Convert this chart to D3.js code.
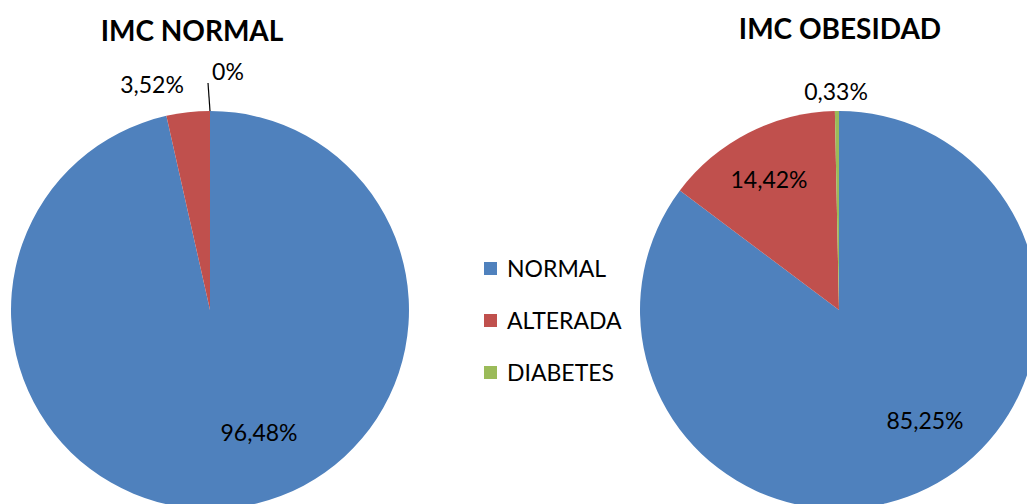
<!DOCTYPE html>
<html>
<head>
<meta charset="utf-8">
<script src="https://cdn.jsdelivr.net/npm/d3@7"></script>
<style>
  html, body { margin: 0; padding: 0; background: #fff; overflow: hidden; }
  svg { display: block; font-family: Lato, "Open Sans", "Liberation Sans", sans-serif; }
</style>
</head>
<body>
<svg id="chart" width="1027" height="504"></svg>
<script>
// Categories shared by both pies
const categories = ["NORMAL", "ALTERADA", "DIABETES"];
const colors = ["#4F81BD", "#C0504D", "#9BBB59"];

// Percentages per group
const normalValues = [96.48, 3.52, 0];
const obesidadValues = [85.25, 14.42, 0.33];

const titles = ["IMC NORMAL", "IMC OBESIDAD"];

const svg = d3.select("#chart");
const color = d3.scaleOrdinal().domain(categories).range(colors);
const fmt = v => d3.format(",.2~f")(v).replace(".", ",") + "%";

const radius = 199;
const pie = d3.pie().sort(null).value(d => d.value);
const arc = d3.arc().innerRadius(0).outerRadius(radius);

function drawPie(values, cx, cy, title, titleX, titleY, labelPos) {
  const data = categories.map((c, i) => ({ cat: c, value: values[i] }));
  const g = svg.append("g").attr("transform", `translate(${cx},${cy})`);
  const arcs = pie(data);
  g.selectAll("path").data(arcs).join("path")
    .attr("d", arc)
    .attr("fill", d => color(d.data.cat));

  svg.append("text")
    .attr("x", titleX).attr("y", titleY)
    .attr("text-anchor", "middle")
    .attr("font-weight", "bold").attr("font-size", 28)
    .attr("fill", "#000")
    .text(title);

  arcs.forEach((a, i) => {
    const p = labelPos[i];
    if (!p) return;
    if (p.leader) {
      const ang = (a.startAngle + a.endAngle) / 2;
      g.append("line")
        .attr("x1", Math.sin(ang) * radius).attr("y1", -Math.cos(ang) * radius)
        .attr("x2", p.leader[0]).attr("y2", p.leader[1])
        .attr("stroke", "#000").attr("stroke-width", 1.2);
    }
    g.append("text")
      .attr("x", p.x).attr("y", p.y)
      .attr("text-anchor", "middle")
      .attr("font-size", 23).attr("fill", "#000")
      .text(fmt(a.data.value));
  });
}

// Label offsets relative to each pie centre
drawPie(normalValues, 210, 310, titles[0], 192, 41, [
  { x: 49, y: 131 },
  { x: -58, y: -217 },
  { x: 18, y: -230, leader: [-2, -227] }
]);

drawPie(obesidadValues, 839, 310, titles[1], 840, 39, [
  { x: 86, y: 119 },
  { x: -70, y: -122 },
  { x: -3, y: -210 }
]);

// Legend
const legend = svg.append("g").attr("transform", "translate(484,269)");
categories.forEach((c, i) => {
  const row = legend.append("g").attr("transform", `translate(0,${i * 52})`);
  row.append("rect").attr("x", 0).attr("y", -7).attr("width", 13).attr("height", 13)
    .attr("fill", color(c));
  row.append("text").attr("x", 23).attr("y", 8)
    .attr("font-size", 23).attr("fill", "#000").text(c);
});
</script>
</body>
</html>
